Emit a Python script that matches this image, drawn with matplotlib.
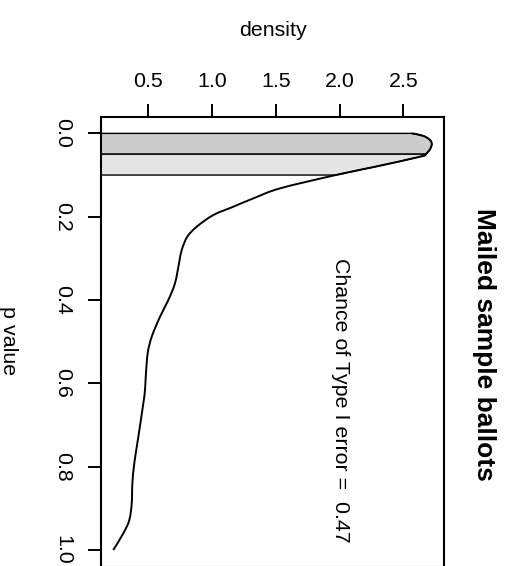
import numpy as np
import matplotlib
matplotlib.use("Agg")
import matplotlib.pyplot as plt
from matplotlib.path import Path
from matplotlib.patches import PathPatch

plt.rcParams["font.family"] = ["Liberation Sans", "DejaVu Sans"]

# Density of simulated p values (p value, density)
p_values = [0.000, 0.006, 0.016, 0.026, 0.038, 0.050, 0.056, 0.080, 0.100,
            0.132, 0.156, 0.176, 0.196, 0.224, 0.248, 0.280, 0.312, 0.360,
            0.400, 0.440, 0.488, 0.528, 0.584, 0.616, 0.648, 0.728, 0.792,
            0.840, 0.888, 0.928, 0.960, 1.000]
density = [2.566, 2.657, 2.709, 2.723, 2.709, 2.675, 2.631, 2.280, 1.970,
           1.533, 1.324, 1.167, 1.010, 0.880, 0.806, 0.762, 0.741, 0.709,
           0.657, 0.592, 0.527, 0.495, 0.480, 0.474, 0.461, 0.422, 0.390,
           0.375, 0.370, 0.351, 0.304, 0.225]

# Significance levels shaded under the curve
alpha_levels = [0.05, 0.10]
band_colors = ["#cccccc", "#e5e5e5"]

type1_error = 0.47
title = "Mailed sample ballots"
density_ticks = [0.5, 1.0, 1.5, 2.0, 2.5]
p_ticks = [0.0, 0.2, 0.4, 0.6, 0.8, 1.0]


def smooth_segments(pts):
    """Catmull-Rom control points for each segment between consecutive points."""
    n = len(pts)
    segs = []
    for i in range(n - 1):
        p0 = pts[max(i - 1, 0)]
        p1 = pts[i]
        p2 = pts[i + 1]
        p3 = pts[min(i + 2, n - 1)]
        c1 = p1 + (p2 - p0) / 6.0
        c2 = p2 - (p3 - p1) / 6.0
        segs.append((c1, c2, p2))
    return segs


def curve_path(pts, segs, i0, i1, head=None, tail=None):
    verts, codes = [], []
    if head is not None:
        for k, v in enumerate(head):
            verts.append(v)
            codes.append(Path.MOVETO if k == 0 else Path.LINETO)
        verts.append(pts[i0])
        codes.append(Path.LINETO)
    else:
        verts.append(pts[i0])
        codes.append(Path.MOVETO)
    for i in range(i0, i1):
        c1, c2, e = segs[i]
        verts += [c1, c2, e]
        codes += [Path.CURVE4] * 3
    if tail is not None:
        for v in tail:
            verts.append(v)
            codes.append(Path.LINETO)
        verts.append(verts[0])
        codes.append(Path.CLOSEPOLY)
    return Path(np.array(verts), codes)


W, H = 519, 566
fig = plt.figure(figsize=(W / 100, H / 100), dpi=100)

# axes box in pixel units (left, top, right, bottom)
L, T, R, B = 101, 116.7, 444, 566.7
ax = fig.add_axes([L / W, 1 - B / H, (R - L) / W, (B - T) / H])

p = np.array(p_values)
d = np.array(density)
pts = np.column_stack([d, p])
segs = smooth_segments(pts)

# shaded bands: [0, 0.05] and [0.05, 0.10]
lo = 0.0
for hi, col in zip(alpha_levels, band_colors):
    i0 = int(np.argmin(np.abs(p - lo)))
    i1 = int(np.argmin(np.abs(p - hi)))
    path = curve_path(pts, segs, i0, i1,
                      head=[(0.0, lo)], tail=[(0.0, hi)])
    ax.add_patch(PathPatch(path, facecolor=col, edgecolor="black",
                           linewidth=1.0, zorder=2))
    lo = hi

line = curve_path(pts, segs, 0, len(pts) - 1)
ax.add_patch(PathPatch(line, facecolor="none", edgecolor="black",
                       linewidth=1.4, zorder=3, capstyle="butt"))

ax.set_xlim(0.129, 2.819)
ax.set_ylim(1.04, -0.04)

ax.xaxis.tick_top()
ax.set_xticks(density_ticks)
ax.set_xticklabels([f"{v:.1f}" for v in density_ticks])
ax.set_yticks(p_ticks)
ax.set_yticklabels([f"{v:.1f}" for v in p_ticks])

fs = 15.4
ax.tick_params(axis="both", direction="out", length=9.2, width=1.4,
               labelsize=fs, color="black")
ax.tick_params(axis="x", pad=9.5)
ax.tick_params(axis="y", pad=11.5)
for lab in ax.get_yticklabels():
    lab.set_rotation(-90)
    lab.set_va("center")
    lab.set_ha("right")

for s in ax.spines.values():
    s.set_linewidth(1.5)
    s.set_color("black")

ax.text(2.01, 0.641, f"Chance of Type I error =  {type1_error:.2f}",
        rotation=-90, ha="center", va="center", fontsize=fs)

fig.text(272.5 / W, 1 - 30 / H, "density", ha="center", va="center",
         fontsize=fs)
fig.text(8 / W, 1 - 341 / H, "p value", ha="center", va="center",
         rotation=-90, fontsize=fs)
fig.text(483.5 / W, 1 - 344 / H, title, ha="center", va="center",
         rotation=-90, fontsize=19, fontweight="bold")

fig.savefig("out.png", dpi=100)
